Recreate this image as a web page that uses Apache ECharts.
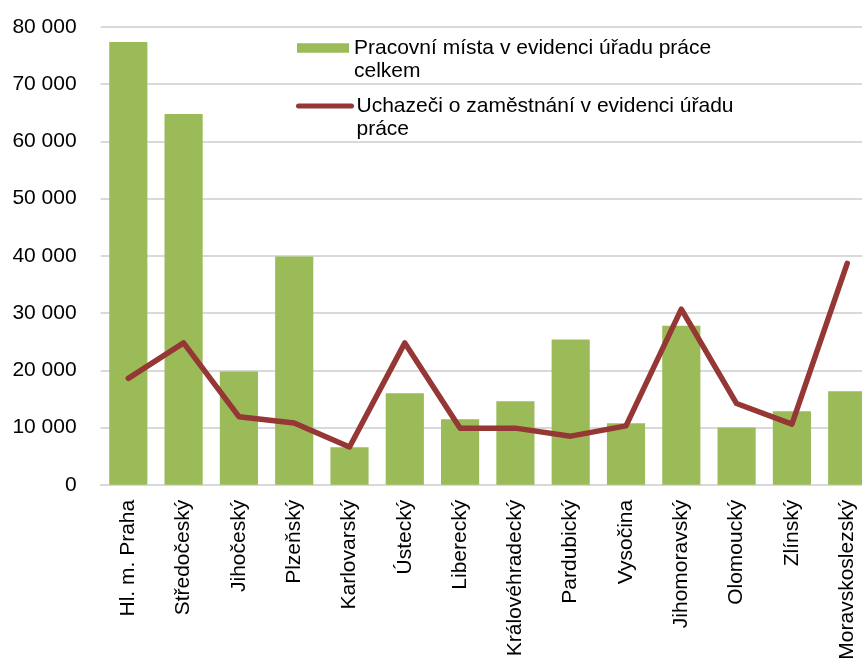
<!DOCTYPE html>
<html>
<head>
<meta charset="utf-8">
<script src="https://cdn.jsdelivr.net/npm/echarts@6/dist/echarts.min.js"></script>
<style>
html,body{margin:0;padding:0;background:#fff;}
#chart{width:862px;height:658px;}
</style>
</head>
<body>
<div id="chart"></div>
<script>
const categories = ['Hl. m. Praha','Středočeský','Jihočeský','Plzeňský','Karlovarský','Ústecký','Liberecký','Královéhradecký','Pardubický','Vysočina','Jihomoravský','Olomoucký','Zlínský','Moravskoslezský'];
const volnaMista = [77400, 64800, 19800, 39900, 6550, 16000, 11450, 14600, 25400, 10750, 27800, 10000, 12850, 16350];
const uchazeci = [18600, 24800, 11900, 10800, 6600, 24800, 9900, 9900, 8500, 10300, 30700, 14200, 10600, 38700];
const yTicks = {min: 0, max: 80000, interval: 10000};
const nameBar = 'Pracovní místa v evidenci úřadu práce celkem';
const nameLine = 'Uchazeči o zaměstnání v evidenci úřadu práce';
const legendLabels = {};
legendLabels[nameBar] = '\u00a0\nPracovní místa v evidenci úřadu práce\ncelkem';
legendLabels[nameLine] = '\u00a0\nUchazeči o zaměstnání v evidenci úřadu\npráce';

const FONT = '"Liberation Sans", Arial, sans-serif';
const FS = 21;
const LH = 23.5;
const chart = echarts.init(document.getElementById('chart'), null, {renderer: 'canvas'});
const legendText = {fontFamily: FONT, fontSize: FS, color: '#000', lineHeight: LH};
chart.setOption({
  animation: false,
  backgroundColor: '#fff',
  textStyle: {fontFamily: FONT},
  grid: {left: 100.65, right: -12.85, top: 27, bottom: 173.2, containLabel: false, outerBoundsMode: 'none'},
  legend: [
    {
      data: [nameBar], orient: 'vertical', left: 297, top: 48 - 1.5 * LH, padding: 0,
      itemWidth: 52, itemHeight: 9.4, icon: 'rect', selectedMode: false,
      formatter: n => legendLabels[n], textStyle: legendText
    },
    {
      data: [nameLine], orient: 'vertical', left: 296, top: 106 - 1.5 * LH, padding: 0,
      itemWidth: 53, itemHeight: 10, selectedMode: false,
      lineStyle: {width: 5, cap: 'round'},
      itemStyle: {opacity: 0},
      formatter: n => legendLabels[n], textStyle: legendText
    }
  ],
  xAxis: {
    type: 'category',
    data: categories,
    axisLine: {show: true, lineStyle: {color: '#d9d9d9', width: 2}},
    axisTick: {show: false},
    axisLabel: {rotate: 90, margin: 15, fontSize: FS, color: '#000', fontFamily: FONT, interval: 0}
  },
  yAxis: {
    type: 'value',
    min: yTicks.min, max: yTicks.max, interval: yTicks.interval,
    axisLine: {show: false},
    axisTick: {show: false},
    splitLine: {lineStyle: {color: '#d9d9d9', width: 2}},
    axisLabel: {
      margin: 24, fontSize: FS, color: '#000', fontFamily: FONT,
      formatter: v => String(v).replace(/\B(?=(\d{3})+(?!\d))/g, ' ')
    }
  },
  series: [
    {
      name: nameBar, type: 'bar', data: volnaMista,
      barCategoryGap: '31%',
      itemStyle: {color: '#9bbb59'}
    },
    {
      name: nameLine, type: 'line', data: uchazeci,
      symbol: 'none', showSymbol: false,
      lineStyle: {color: '#953735', width: 5.5, cap: 'round', join: 'round'},
      itemStyle: {color: '#953735'}
    }
  ]
});
</script>
</body>
</html>
